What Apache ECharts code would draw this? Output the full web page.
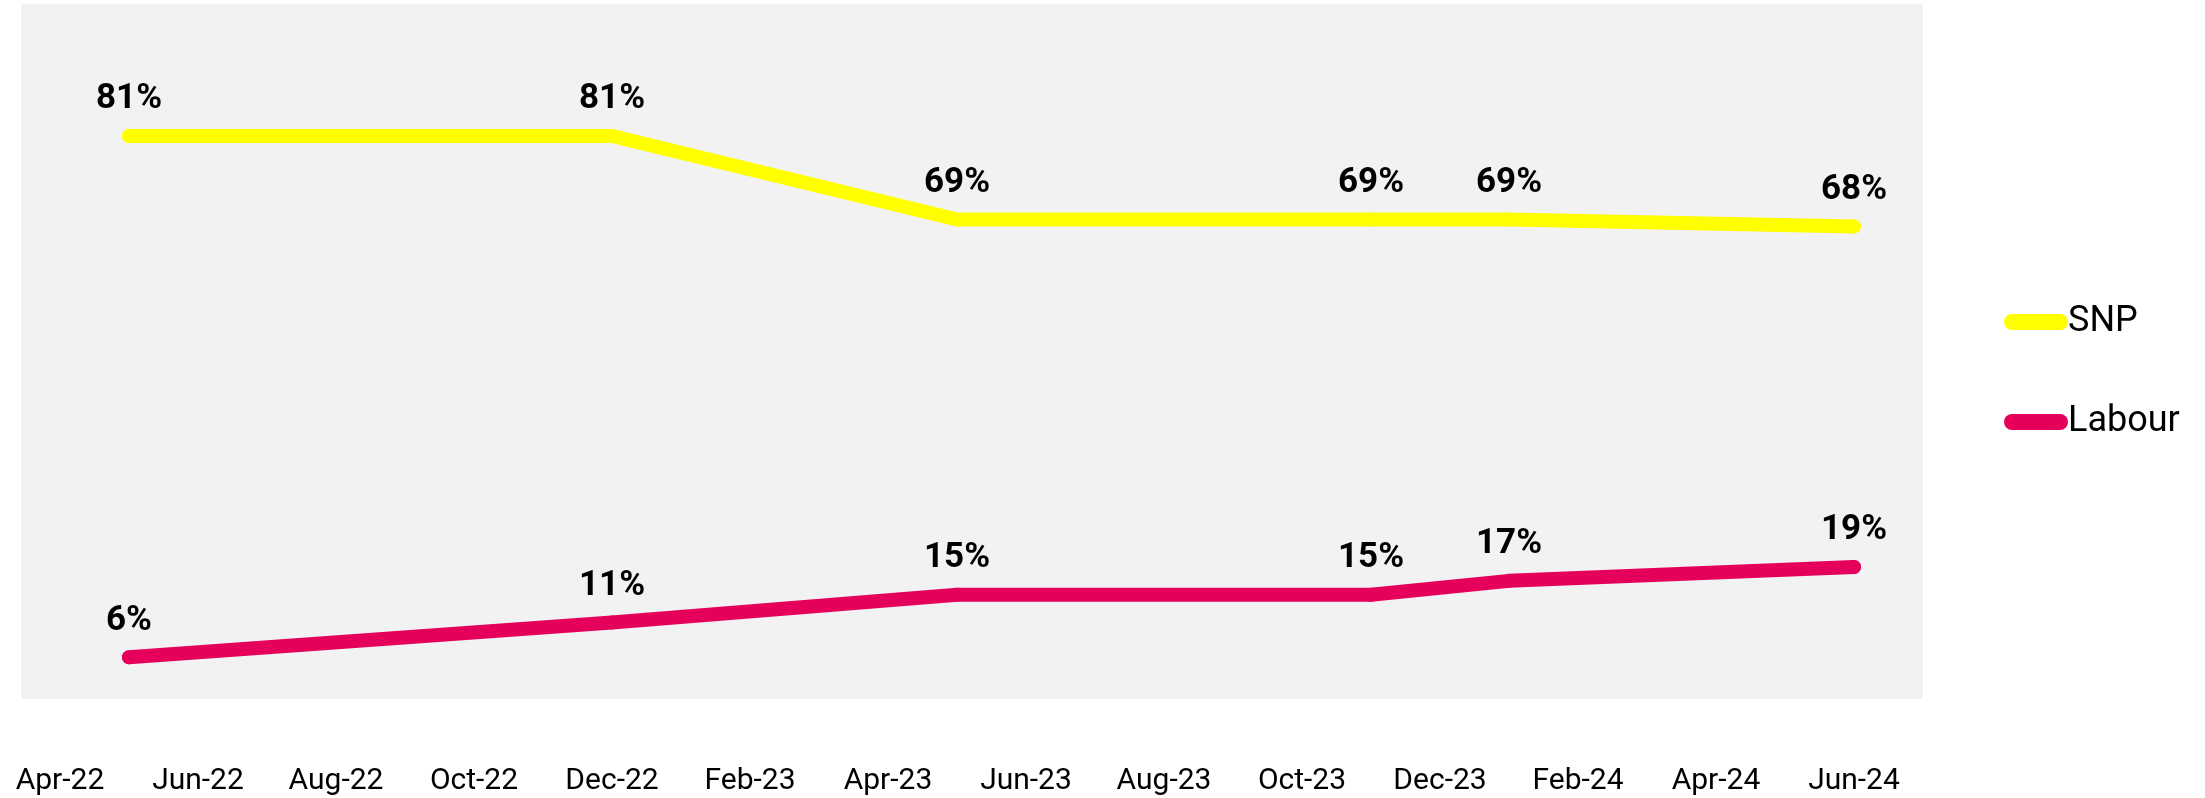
<!DOCTYPE html>
<html>
<head>
<meta charset="utf-8">
<script src="https://cdn.jsdelivr.net/npm/echarts@6/dist/echarts.min.js"></script>
<style>
  html, body { margin: 0; padding: 0; background: #fff; }
</style>
</head>
<body>
<div id="main" style="width: 2205px; height: 798px"></div>
<script>
// tick labels along the bottom, every two months
var tickLabels = ['Apr-22', 'Jun-22', 'Aug-22', 'Oct-22', 'Dec-22', 'Feb-23', 'Apr-23',
  'Jun-23', 'Aug-23', 'Oct-23', 'Dec-23', 'Feb-24', 'Apr-24', 'Jun-24'];
// poll dates
var pollDates = ['May-22', 'Dec-22', 'May-23', 'Nov-23', 'Jan-24', 'Jun-24'];
var snpValues = [81, 81, 69, 69, 69, 68];
var labourValues = [6, 11, 15, 15, 17, 19];

var monthNames = ['Jan', 'Feb', 'Mar', 'Apr', 'May', 'Jun', 'Jul', 'Aug', 'Sep', 'Oct', 'Nov', 'Dec'];
// months since Apr-22
var monthIndex = function (s) {
  var p = s.split('-');
  return (parseInt(p[1], 10) - 22) * 12 + monthNames.indexOf(p[0]) - 3;
};
var toData = function (vals) {
  return pollDates.map(function (d, i) { return [monthIndex(d), vals[i]]; });
};
var tickPos = tickLabels.map(monthIndex);
var labelByPos = {};
tickLabels.forEach(function (t) { labelByPos[monthIndex(t)] = t; });

var font = 'Roboto, "Noto Sans", sans-serif';

var chartDom = document.getElementById('main');
var myChart = echarts.init(chartDom);

var lineSeries = function (name, color, vals) {
  return {
    name: name,
    type: 'line',
    data: toData(vals),
    symbol: 'circle',
    symbolSize: 14,
    itemStyle: { color: color },
    lineStyle: { color: color, width: 14, cap: 'round', join: 'round' },
    label: {
      show: true,
      position: 'top',
      distance: 12,
      formatter: function (p) { return p.value[1] + '%'; },
      color: '#000',
      fontFamily: font,
      fontWeight: 'bold',
      fontSize: 35
    },
    emphasis: { disabled: true },
    animation: false
  };
};

var option = {
  backgroundColor: '#ffffff',
  grid: {
    left: 21,
    top: 4,
    right: 282,
    bottom: 99,
    show: true,
    backgroundColor: '#f2f2f2',
    borderWidth: 0
  },
  legend: {
    orient: 'vertical',
    left: 1999,
    top: 299,
    itemWidth: 64,
    itemHeight: 16,
    itemGap: 64,
    icon: 'path://M8,0 L56,0 A8,8 0 0 1 56,16 L8,16 A8,8 0 0 1 8,0 Z',
    textStyle: { fontFamily: font, fontSize: 36, color: '#000', padding: [0, 0, 0, -5] },
    data: ['SNP', 'Labour']
  },
  xAxis: {
    type: 'value',
    min: -0.565,
    max: 27,
    splitLine: { show: false },
    axisLine: { show: false },
    axisTick: { show: false },
    axisLabel: {
      customValues: tickPos,
      formatter: function (v) { return labelByPos[v] || ''; },
      margin: 67,
      fontFamily: font,
      fontSize: 30,
      color: '#000'
    }
  },
  yAxis: {
    type: 'value',
    min: 0,
    max: 100,
    show: false,
    splitLine: { show: false }
  },
  series: [
    lineSeries('SNP', '#ffff00', snpValues),
    lineSeries('Labour', '#e4005b', labourValues)
  ]
};

option && myChart.setOption(option);
</script>
</body>
</html>
